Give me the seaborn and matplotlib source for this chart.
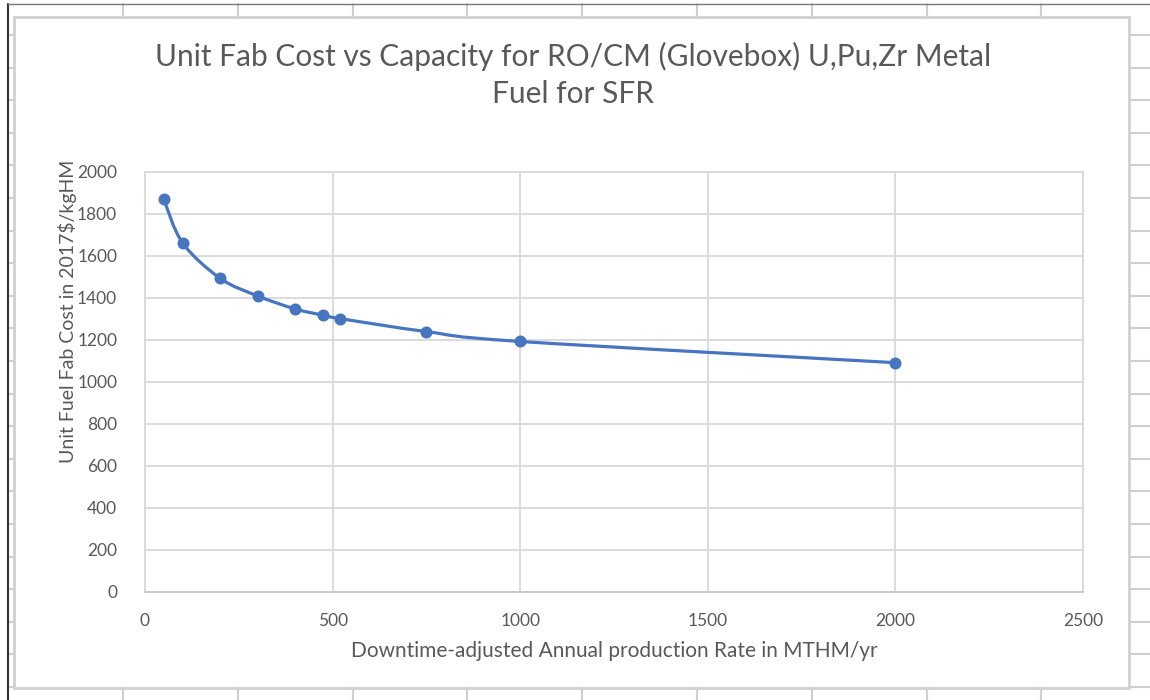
import matplotlib
matplotlib.use("Agg")
import matplotlib.pyplot as plt
from matplotlib.path import Path
from matplotlib.patches import PathPatch, Rectangle
from matplotlib.lines import Line2D
import seaborn as sns
import numpy as np
import pandas as pd

# data
capacity = [50, 100, 200, 300, 400, 475, 520, 750, 1000, 2000]
unit_cost = [1870, 1663, 1494, 1410, 1348, 1318, 1302, 1240, 1193, 1092]

x_ticks = [0, 500, 1000, 1500, 2000, 2500]
y_ticks = [0, 200, 400, 600, 800, 1000, 1200, 1400, 1600, 1800, 2000]

title = "Unit Fab Cost vs Capacity for RO/CM (Glovebox) U,Pu,Zr Metal\nFuel for SFR"
x_label = "Downtime-adjusted Annual production Rate in MTHM/yr"
y_label = "Unit Fuel Fab Cost in 2017$/kgHM"

blue = "#4775c0"
grey_txt = "#595959"
grid_col = "#d9d9d9"

sns.set_theme(style="white")
plt.rcParams["font.family"] = ["Lato", "DejaVu Sans"]

W, H = 1150, 700
fig = plt.figure(figsize=(W / 100, H / 100), dpi=100)
fig.patch.set_facecolor("white")


def px(x, y):
    # pixel coords (top-left origin) -> figure fraction
    return x / W, 1 - y / H


# spreadsheet cells around the chart object
cols = [123 + 114.8 * i for i in range(9)]
rows = [35 + 32.6 * i for i in range(21)]
for cx in cols:
    fig.add_artist(Line2D([cx / W] * 2, [1 - 4 / H, 1 - 17 / H], color="#cfcfcf", lw=1.5))
    fig.add_artist(Line2D([cx / W] * 2, [1 - 688 / H, 0], color="#cfcfcf", lw=1.5))
for ry in rows:
    if ry < 690:
        fig.add_artist(Line2D([8 / W, 14 / W], [1 - ry / H] * 2, color="#cfcfcf", lw=1.5))
        fig.add_artist(Line2D([1130 / W, 1.0], [1 - ry / H] * 2, color="#cfcfcf", lw=1.5))
fig.add_artist(Line2D([8 / W, 8 / W], [0, 1 - 4 / H], color="#333333", lw=1.5))
fig.add_artist(Line2D([8 / W, 1.0], [1 - 4 / H] * 2, color="#777777", lw=1.0))
# chart area frame
fig.add_artist(Rectangle(px(14, 688), (1129 - 14) / W, (688 - 17) / H,
                         fill=False, edgecolor="#d0d0d0", lw=2.0))

ax = fig.add_axes([145 / W, 1 - 592 / H, (1083 - 145) / W, (592 - 172) / H])

df = pd.DataFrame({"capacity": capacity, "cost": unit_cost})

# smoothed line (Excel-style Catmull-Rom through the points)
pts = df[["capacity", "cost"]].to_numpy(dtype=float)
n = len(pts)
verts = [pts[0]]
codes = [Path.MOVETO]
for i in range(n - 1):
    p0 = pts[i - 1] if i > 0 else pts[i]
    p1 = pts[i]
    p2 = pts[i + 1]
    p3 = pts[i + 2] if i + 2 < n else pts[i + 1]
    c1 = p1 + (p2 - p0) / 6.0
    c2 = p2 - (p3 - p1) / 6.0
    verts += [c1, c2, p2]
    codes += [Path.CURVE4] * 3
ax.add_patch(PathPatch(Path(verts, codes), fill=False, edgecolor=blue,
                       lw=2.3, capstyle="round", zorder=3))

sns.scatterplot(data=df, x="capacity", y="cost", ax=ax, color=blue,
                s=75, linewidth=0, zorder=4, legend=False)

ax.set_xlim(0, 2500)
ax.set_ylim(0, 2000)
ax.set_xticks(x_ticks)
ax.set_yticks(y_ticks)
ax.grid(True, color=grid_col, lw=1.3)
ax.set_axisbelow(True)
for s in ax.spines.values():
    s.set_color(grid_col)
    s.set_linewidth(1.3)
ax.spines["bottom"].set_color("#c8c8c8")
ax.tick_params(axis="both", length=0, labelsize=12.5, labelcolor=grey_txt)
ax.tick_params(axis="x", pad=15)
ax.tick_params(axis="y", pad=20)

ax.set_xlabel(x_label, fontsize=15, color=grey_txt)
ax.set_ylabel(y_label, fontsize=14, color=grey_txt)
ax.xaxis.set_label_coords(0.5, (592 - 641) / 420)
ax.yaxis.set_label_coords((77 - 145) / 938, (592 - 311) / 420)

fig.text(573 / W, 1 - 75 / H, title, ha="center", va="center",
         fontsize=21.5, color=grey_txt, linespacing=1.4)

fig.savefig("out.png", dpi=100, facecolor="white")
